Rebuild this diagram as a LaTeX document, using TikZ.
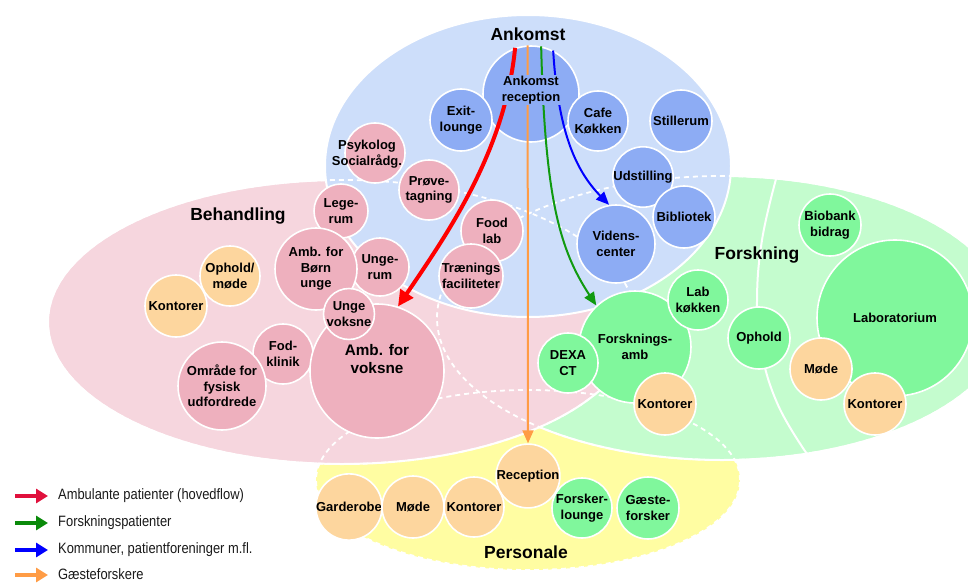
\documentclass[tikz,border=0pt]{standalone}
\usepackage{fontspec}
\setmainfont{Liberation Sans}
\usetikzlibrary{arrows.meta}
\definecolor{bluebg}{HTML}{CDDEFA}
\definecolor{bluec}{HTML}{8DACF4}
\definecolor{pinkbg}{HTML}{F6D6DE}
\definecolor{pinkc}{HTML}{EEB0BE}
\definecolor{greenbg}{HTML}{C4FCCE}
\definecolor{greenc}{HTML}{80F79C}
\definecolor{orangec}{HTML}{FDD69E}
\definecolor{yellowbg}{HTML}{FFFDA2}
\definecolor{arrred}{HTML}{FF0000}
\definecolor{arrorange}{HTML}{FF9C45}
\definecolor{arrgreen}{HTML}{109A10}
\definecolor{arrblue}{HTML}{0000FF}
\definecolor{legred}{HTML}{E0103C}
\definecolor{leggreen}{HTML}{0A8A0A}
\definecolor{legtextc}{HTML}{1A1A1A}
\begin{document}
\begin{tikzpicture}[x=1pt,y=-1pt,
  room/.style={circle, draw=white, line width=1.6pt, inner sep=0pt, align=center,
    font=\bfseries\fontsize{13}{15.5}\selectfont},
  broom/.style={room, fill=bluec},
  proom/.style={room, fill=pinkc},
  groom/.style={room, fill=greenc},
  oroom/.style={room, fill=orangec},
  roomtext/.style={align=center, inner sep=0pt, font=\bfseries\fontsize{13}{15.5}\selectfont},
  region/.style={draw=white, line width=2pt},
  hidden/.style={draw=white, line width=1.8pt, dash pattern=on 5pt off 4pt},
  zone/.style={font=\bfseries\fontsize{17.5}{20}\selectfont},
  flow/.style={-{Triangle[length=13pt,width=11pt]}, line width=2pt},
  legarrow/.style={-{Triangle[length=12pt,width=14pt]}, line width=4pt},
  legtext/.style={anchor=west, inner sep=0pt, text=legtextc}
]
\clip (0,0) rectangle (968,583);
% regions
\fill[yellowbg] (528,480) ellipse [x radius=212pt, y radius=90pt];
\filldraw[fill=greenbg, region] (722,318) ellipse [x radius=285pt, y radius=142pt];
\draw[region] plot[smooth, tension=0.7] coordinates {(776,179) (762,240) (757,300) (761,350) (778,405) (807,454)};
\filldraw[fill=pinkbg, region] (342,322) ellipse [x radius=294pt, y radius=142pt];
\filldraw[fill=bluebg, region] (528,166) ellipse [x radius=203pt, y radius=151pt];
% hidden outlines
\draw[hidden] (528,480) ellipse [x radius=212pt, y radius=90pt];
\draw[hidden] (722,318) ellipse [x radius=285pt, y radius=142pt];
\draw[hidden] (342,322) ellipse [x radius=294pt, y radius=142pt];
% zone labels
\node[zone] (zank) at (528,34) {Ankomst};
\node[zone] (zbeh) at (238,216) {Behandling};
\node[zone] (zfor) at (757,255) {Forskning};
\node[zone] (zper) at (526,552) {Personale};
% Ankomst rooms
\node[broom, minimum size=96] (ar) at (531,94) {};
\node[broom, minimum size=62] (exit) at (461,120) {Exit-\\lounge};
\node[broom, minimum size=60] (cafe) at (598,121) {Cafe\\Køkken};
\node[broom, minimum size=62] (still) at (681,121) {Stillerum};
\node[broom, minimum size=60] (udst) at (643,177) {Udstilling};
\node[broom, minimum size=62] (bib) at (684,217) {Bibliotek};
\node[broom, minimum size=78] (vid) at (616,244) {Videns-\\center};
% Behandling rooms
\node[proom, minimum size=60] (psyk) at (375,153) {};
\node[roomtext] (psyktext) at (367,154) {Psykolog\\Socialrådg.};
\node[proom, minimum size=60] (prove) at (429,190) {Prøve-\\tagning};
\node[proom, minimum size=54] (lege) at (341,211) {Lege-\\rum};
\node[proom, minimum size=62] (foodlab) at (492,231) {Food\\lab};
\node[proom, minimum size=64] (traen) at (471,276) {Trænings\\faciliteter};
\node[proom, minimum size=58] (ungerum) at (380,267) {Unge-\\rum};
\node[proom, minimum size=82] (ambb) at (316,269) {Amb. for\\Børn\\unge};
\node[proom, minimum size=60] (fod) at (283,354) {Fod-\\klinik};
\node[proom, minimum size=134, font=\bfseries\fontsize{15.3}{18}\selectfont] (ambv) at (377,371) {Amb. for\\voksne\\[6pt]};
\node[proom, minimum size=48] (ungev) at (349,314) {Unge\\voksne};
\node[proom, minimum size=88] (omr) at (222,386) {Område for\\fysisk\\udfordrede};
\node[oroom, minimum size=60] (ophm) at (230,276) {Ophold/\\møde};
\node[oroom, minimum size=62] (kontp) at (176,306) {Kontorer};
% Forskning rooms
\node[groom, minimum size=156] (lab) at (895,318) {Laboratorium};
\node[oroom, minimum size=62] (mode2) at (821,369) {Møde};
\node[oroom, minimum size=62] (kontg2) at (875,404) {Kontorer};
\node[groom, minimum size=112] (fa) at (635,347) {Forsknings-\\amb};
\node[groom, minimum size=60] (dexa) at (568,363) {DEXA\\CT};
\node[groom, minimum size=60] (labk) at (698,300) {Lab\\køkken};
\node[oroom, minimum size=62] (kontg1) at (665,404) {Kontorer};
\node[groom, minimum size=62] (ophold) at (759,338) {Ophold};
\node[groom, minimum size=62] (biobank) at (830,225) {Biobank\\bidrag};
% Personale rooms
\node[oroom, minimum size=60] (rec) at (528,476) {Reception};
\node[oroom, minimum size=62] (gard) at (349,507) {Garderobe};
\node[oroom, minimum size=62] (mode3) at (413,507) {Møde};
\node[oroom, minimum size=60] (kont3) at (474,507) {Kontorer};
\node[groom, minimum size=60] (forl) at (582,508) {Forsker-\\lounge};
\node[groom, minimum size=62] (gaest) at (648,508) {Gæste-\\forsker};
% flows
\draw[arrred, line width=4pt, -{Triangle[length=16pt,width=15pt]}]
  (ar.109) .. controls (505,150) and (450,230) .. (ambv.72);
\draw[flow, arrorange] (ar.94) -- (rec.north);
\draw[flow, arrgreen] (ar.78) .. controls (545,200) and (560,250) .. (fa.133);
\draw[flow, arrblue] (ar.63) .. controls (558,130) and (575,170) .. (vid.100);
\node[roomtext, fill=bluec, inner sep=1.2pt] (artext) at (531,90) {Ankomst\\reception};
% legend
\coordinate (la1) at (15,496); \coordinate (lb1) at (48,496);
\coordinate (la2) at (15,523); \coordinate (lb2) at (48,523);
\coordinate (la3) at (15,550); \coordinate (lb3) at (48,550);
\coordinate (la4) at (15,575); \coordinate (lb4) at (48,575);
\draw[legarrow, legred] (la1) -- (lb1);
\draw[legarrow, leggreen] (la2) -- (lb2);
\draw[legarrow, arrblue] (la3) -- (lb3);
\draw[legarrow, arrorange] (la4) -- (lb4);
\node[legtext] (lt1) at (58,496) {\scalebox{0.86}[1]{\fontsize{15}{17}\selectfont Ambulante patienter (hovedflow)}};
\node[legtext] (lt2) at (58,523) {\scalebox{0.86}[1]{\fontsize{15}{17}\selectfont Forskningspatienter}};
\node[legtext] (lt3) at (58,550) {\scalebox{0.86}[1]{\fontsize{15}{17}\selectfont Kommuner, patientforeninger m.fl.}};
\node[legtext] (lt4) at (58,574) {\scalebox{0.86}[1]{\fontsize{15}{17}\selectfont Gæsteforskere}};
\end{tikzpicture}
\end{document}
